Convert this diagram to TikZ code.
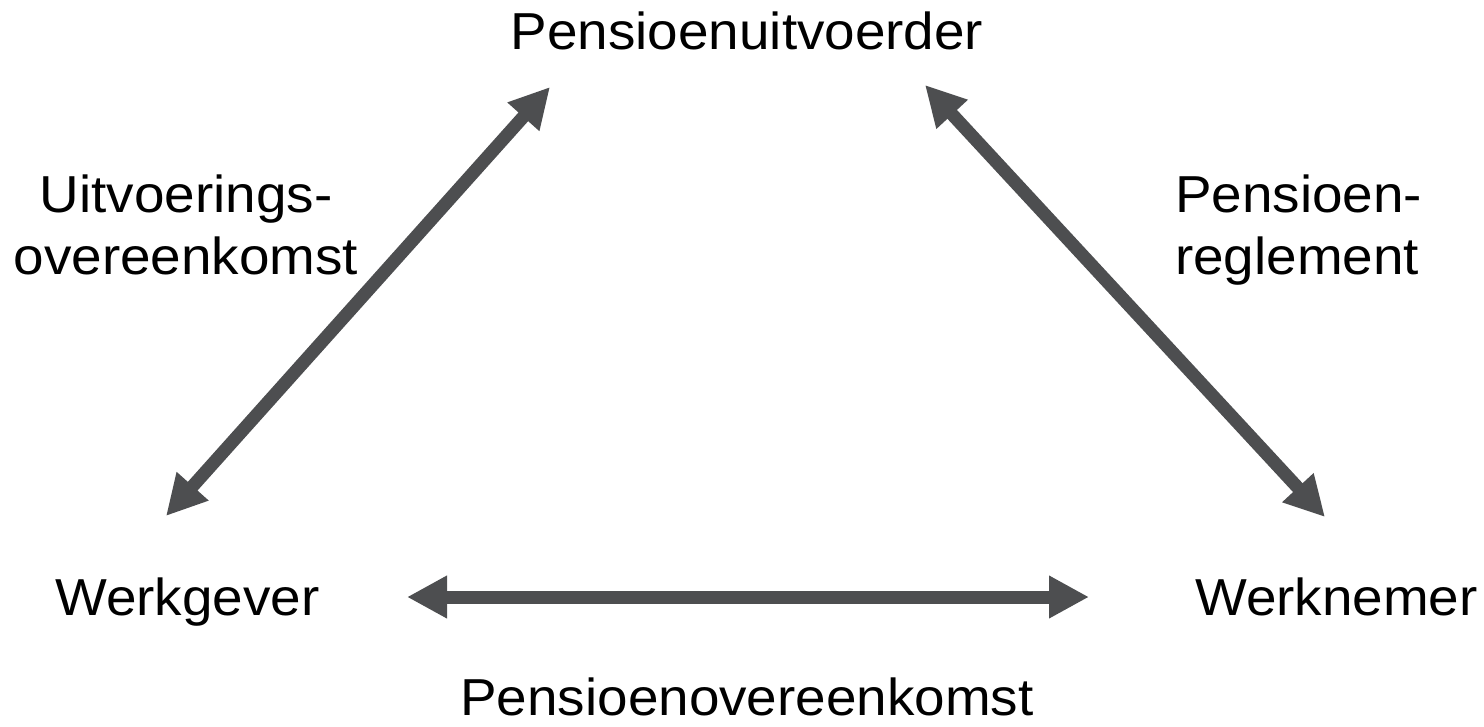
\documentclass[tikz,border=0pt]{standalone}
\usepackage{fontspec}
\setmainfont{Liberation Sans}
\usetikzlibrary{arrows.meta}
\definecolor{arr}{HTML}{4D4E50}
\newcommand{\widetxt}[1]{\scalebox{1.055}[1]{#1}}
\begin{document}
\begin{tikzpicture}[x=1pt,y=-1pt,
  lbl/.style={inner sep=0pt,font=\fontsize{52}{62}\selectfont,text=black},
  dbl/.style={draw=arr,line width=13pt,{Triangle[length=40pt,width=40pt]}-{Triangle[length=40pt,width=40pt]},color=arr}]
\useasboundingbox (0,0) rectangle (1484,726);
\node[lbl,anchor=base] (pu) at (747,49) {\widetxt{Pensioenuitvoerder}};
\node[lbl,anchor=base west] (wg) at (55,615) {\widetxt{Werkgever}};
\node[lbl,anchor=base west] (wn) at (1195,615) {\widetxt{Werknemer}};
\node[lbl,anchor=base] (po) at (747,715) {\widetxt{Pensioenovereenkomst}};
\node[lbl,align=center,anchor=north] (uo) at (186,175) {\widetxt{Uitvoerings-}\\\widetxt{overeenkomst}};
\node[lbl,align=left,anchor=north west] (pr) at (1175,175) {\widetxt{Pensioen-}\\\widetxt{reglement}};
\coordinate (a1) at (166,516);
\coordinate (a2) at (550,87);
\coordinate (b1) at (925,85);
\coordinate (b2) at (1325,517);
\coordinate (c1) at (407,597);
\coordinate (c2) at (1089,597);
\draw[dbl] (a1) -- (a2);
\draw[dbl] (b1) -- (b2);
\draw[dbl] (c1) -- (c2);
\end{tikzpicture}
\end{document}
